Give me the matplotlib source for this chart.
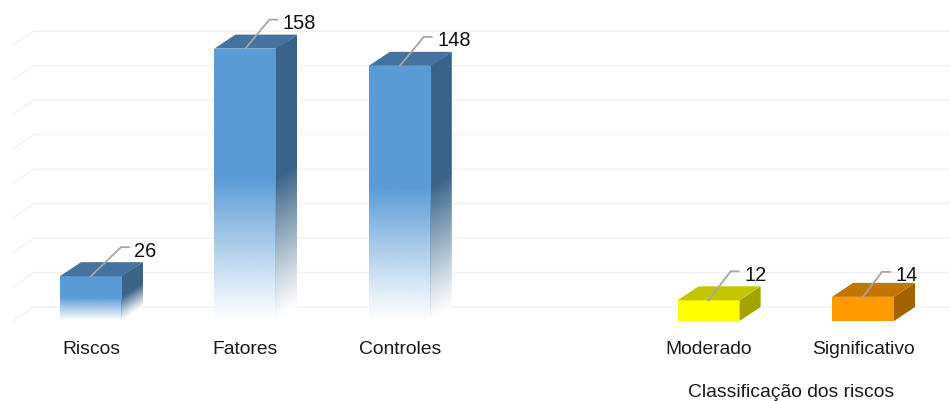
import matplotlib
matplotlib.use("Agg")
import matplotlib.pyplot as plt
from matplotlib.patches import Polygon
import numpy as np

plt.rcParams["font.family"] = ["Liberation Sans", "DejaVu Sans"]

# Data
categories = ["Riscos", "Fatores", "Controles", "Moderado", "Significativo"]
positions = [0, 1, 2, 4, 5]
values = [26, 158, 148, 12, 14]
grid_values = [0, 20, 40, 60, 80, 100, 120, 140, 160]

# Colours: front, top, side
blue = ("#5B9BD5", "#44739F", "#3A6489")
yellow = ("#FFFF00", "#C4C400", "#A3A300")
orange = ("#FF9900", "#C47500", "#A36200")
bar_colors = [blue, blue, blue, yellow, orange]
bar_fades = [True, True, True, False, False]

# Label leader offsets in pixels (dx, dy)
leaders = [(30, 29), (24, 29), (24, 29), (22, 29), (19, 25)]

# Scales: pixels per data unit
px_x = 154.4
px_y = 1.724
depth_x = 21 / px_x
depth_y = 14 / px_y
half_w = 31 / px_x

fig = plt.figure(figsize=(9.5, 4.01), dpi=100)
ax = fig.add_axes([0, 80 / 401, 1, 321 / 401])
ax.set_xlim(-91 / px_x, 859 / px_x)
ax.set_ylim(0, 321 / px_y)
ax.set_autoscale_on(False)
for s in ax.spines.values():
    s.set_visible(False)
ax.set_yticks([])
ax.set_xticks(positions)
ax.set_xticklabels(categories, fontsize=13.9, color="#1a1a1a")
ax.tick_params(axis="x", length=0, pad=14.5)
ax.set_xlabel("Classificação dos riscos", fontsize=13.9, color="#1a1a1a", x=791 / 950, labelpad=18.5)

# Grid on the floor edge and back wall
grid_left = -78 / px_x
for g in grid_values:
    ax.plot([grid_left, grid_left + depth_x, 859 / px_x], [g, g + depth_y, g + depth_y],
            color="#F2F2F2", lw=1.1, zorder=1, clip_on=False)


def shaded_face(x0, x1, val, shear, color, zorder):
    # gradient follows the sheared face: solid on the upper half, fading to white at the base
    rows, cols = 300, 30
    top = val + shear
    xs = (np.arange(cols) + 0.5) / cols
    ys = top * (1 - (np.arange(rows) + 0.5) / rows)
    frac = (ys[:, None] - shear * xs[None, :]) / val
    rgba = np.zeros((rows, cols, 4))
    rgba[..., :3] = matplotlib.colors.to_rgb(color)
    rgba[..., 3] = np.clip(frac / 0.52, 0.0, 1.0) ** 1.1
    im = ax.imshow(rgba, extent=[x0, x1, 0, top], aspect="auto", zorder=zorder, interpolation="bilinear")
    face = Polygon([(x0, 0), (x1, shear), (x1, top), (x0, val)], transform=ax.transData)
    im.set_clip_path(face)


for pos, val, cols, fade, (dx, dy) in zip(positions, values, bar_colors, bar_fades, leaders):
    left = pos - half_w
    right = pos + half_w
    front, top, side = cols
    if fade:
        # white backing so grid lines stay hidden behind the faded part
        ax.fill([left, right, right + depth_x, right + depth_x, left], [0, 0, depth_y, val, val],
                color="white", lw=0, zorder=2)
        # side starts a pixel under the front face so no seam shows between them
        shaded_face(right - 1 / px_x, right + depth_x, val, depth_y, side, 3)
        shaded_face(left, right, val, 0, front, 3.1)
    else:
        ax.fill([left, right, right, left], [0, 0, val, val], color=front, lw=0, zorder=3)
        ax.fill([right, right + depth_x, right + depth_x, right], [0, depth_y, val + depth_y, val],
                color=side, lw=0, zorder=3)
    ax.fill([left, right, right + depth_x, left + depth_x], [val, val, val + depth_y, val + depth_y],
            color=top, lw=0, zorder=3.2)

    # leader line and value label
    ex = pos + dx / px_x
    ey = val + dy / px_y
    ax.plot([pos, ex, ex + 8 / px_x], [val, ey, ey], color="#A6A6A6", lw=1.3, zorder=4,
            solid_joinstyle="miter", clip_on=False)
    ax.text(ex + 13.5 / px_x, ey - 4 / px_y, str(val), fontsize=14.4, color="#111111",
            ha="left", va="center", zorder=5)

fig.savefig("out.png", dpi=100)
